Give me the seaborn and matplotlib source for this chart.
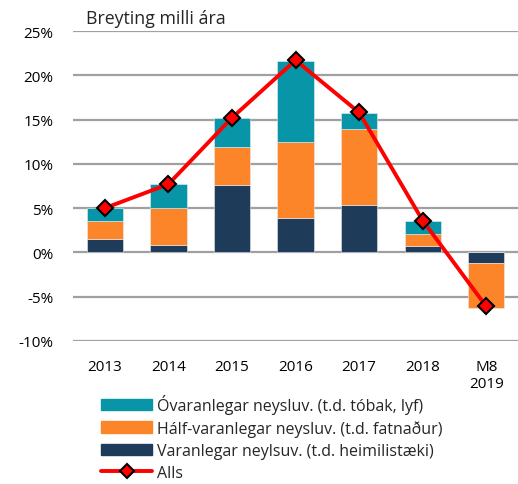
import numpy as np
import matplotlib
matplotlib.use("Agg")
import matplotlib.pyplot as plt
from matplotlib.patches import Patch
from matplotlib.lines import Line2D
from matplotlib.ticker import FuncFormatter
import seaborn as sns

# data (% change between years)
years = ["2013", "2014", "2015", "2016", "2017", "2018", "M8\n2019"]
varanlegar = [1.5, 0.85, 7.65, 3.9, 5.4, 0.75, -1.2]
half_varanlegar = [2.05, 4.15, 4.2, 8.55, 8.55, 1.3, -5.05]
ovaranlegar = [1.45, 2.75, 3.3, 9.2, 1.8, 1.5, 0.0]
alls = [5.0, 7.7, 15.2, 21.7, 15.8, 3.6, -6.1]

labels = ["Óvaranlegar neysluv. (t.d. tóbak, lyf)",
          "Hálf-varanlegar neysluv. (t.d. fatnaður)",
          "Varanlegar neylsuv. (t.d. heimilistæki)",
          "Alls"]
colors = ["#0895A8", "#FD8529", "#1F3B5A"]

sns.set_theme(style="white")
plt.rcParams["font.family"] = ["Open Sans", "DejaVu Sans"]

fig = plt.figure(figsize=(5.18, 4.85), dpi=100)
ax = fig.add_axes([0.141, 0.295, 0.859, 0.639])

x = np.arange(len(years))
width = 0.57

# stack positive and negative parts separately
pos_base = np.zeros(len(years))
neg_base = np.zeros(len(years))
for vals, col in [(varanlegar, colors[2]), (half_varanlegar, colors[1]), (ovaranlegar, colors[0])]:
    vals = np.array(vals)
    base = np.where(vals >= 0, pos_base, neg_base)
    ax.bar(x, vals, width, bottom=base, color=col, linewidth=0.4,
           edgecolor="#E8EEF2", zorder=3)
    pos_base = pos_base + np.clip(vals, 0, None)
    neg_base = neg_base + np.clip(vals, None, 0)

sns.lineplot(x=x, y=alls, ax=ax, color="#FF0000", linewidth=2.8, marker="D",
             markersize=8, markerfacecolor="#FF0000", markeredgecolor="black",
             markeredgewidth=1.5, zorder=4)

ax.set_xlim(-0.5, len(years) - 0.5)
ax.set_ylim(-10, 25)
ax.set_yticks(np.arange(-10, 26, 5))
ax.yaxis.set_major_formatter(FuncFormatter(lambda v, p: f"{v:.0f}%"))
ax.set_xticks(x)
ax.set_xticklabels(years)
ax.tick_params(axis="both", length=0, labelsize=11, colors="black")
ax.tick_params(axis="y", pad=14)
ax.tick_params(axis="x", pad=13)
ax.yaxis.grid(True, color="#A0A0A0", linewidth=1.6, zorder=0)
ax.set_axisbelow(True)
for s in ax.spines.values():
    s.set_visible(False)

fig.text(0.166, 0.961, "Breyting milli ára", fontsize=12.8, ha="left", va="center")

handles = [Patch(color=colors[0]), Patch(color=colors[1]), Patch(color=colors[2]),
           Line2D([0], [0], color="#FF0000", linewidth=2.8, marker="D", markersize=7,
                  markerfacecolor="#FF0000", markeredgecolor="black", markeredgewidth=1.5)]
fig.legend(handles, labels, loc="upper left", bbox_to_anchor=(0.195, 0.186),
           frameon=False, fontsize=11.5, handlelength=3.2, handleheight=0.7,
           handletextpad=0.3, labelspacing=0.38, borderaxespad=0, borderpad=0)

fig.savefig("out.png", dpi=100)
